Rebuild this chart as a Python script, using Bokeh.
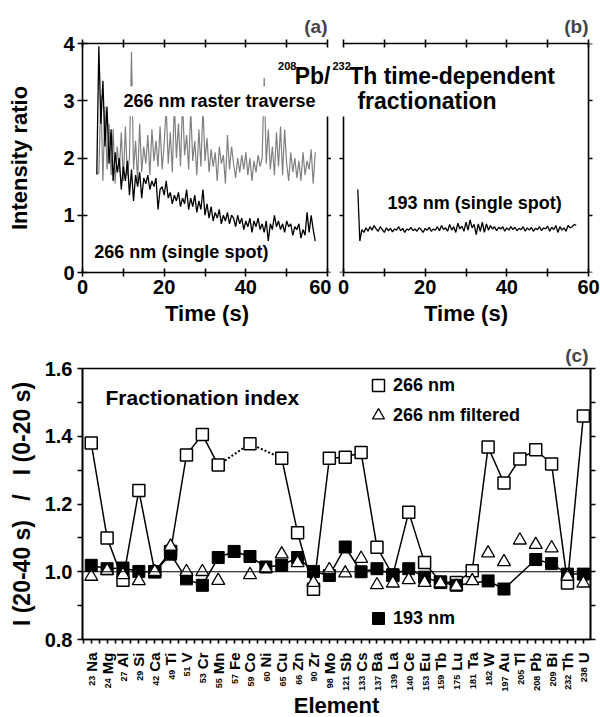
import math
import numpy as np
from bokeh.plotting import figure
from bokeh.models import (Range1d, LinearAxis, FixedTicker, Label, LabelSet, ColumnDataSource,
                          Span, Legend, LegendItem, NumeralTickFormatter, CustomJSTickFormatter)
from bokeh.layouts import column, row
from bokeh.core.properties import value
from bokeh.embed import file_html
from bokeh.resources import INLINE

FONT = "Liberation Sans"
nan = float("nan")

# ---------------- data: panels (a) and (b), sampled every 0.5 s from 3.5 s ----------------
t_start = 3.5
t_step = 0.5
raster_266 = [1.7, 1.75, 3.1, 1.6, 2.9, 1.8, 2.6, 1.7, 2.5, 1.55,
              2.2, 1.75, 2.45, 1.6, 2.55, 1.7, 2.0, 3.85, 1.8, 2.3,
              1.6, 2.6, 1.75, 2.2, 1.9, 2.4, 1.7, 2.5, 1.95, 2.3,
              1.85, 2.55, 1.8, 2.25, 2.9, 1.9, 2.45, 1.75, 2.95, 2.0,
              2.6, 1.85, 3.0, 2.05, 2.4, 1.8, 2.85, 1.95, 2.3, 1.7,
              2.5, 1.85, 2.9, 1.95, 2.35, 1.75, 2.15, 1.85, 2.1, 1.6,
              2.2, 1.9, 2.05, 1.55, 2.4, 1.8, 2.2, 1.9, 1.65, 2.0,
              1.75, 2.05, 1.8, 2.1, 1.7, 2.0, 1.6, 1.95, 1.75, 2.05,
              1.85, 2.0, 3.4, 1.9, 2.5, 1.8, 2.2, 1.7, 2.45, 1.85,
              2.55, 1.7, 2.5, 1.9, 1.6, 2.1, 1.75, 2.0, 1.65, 1.95,
              1.6, 2.1, 1.7, 1.95, 1.8, 2.15, 1.55, 2.1]
spot_266 = [1.72, 3.95, 2.6, 3.35, 2.2, 2.9, 1.9, 2.5, 1.6, 2.1,
            1.75, 2.0, 1.45, 1.85, 1.6, 1.95, 1.35, 1.8, 1.25, 1.7,
            1.5, 1.75, 1.3, 1.65, 1.55, 1.7, 1.45, 1.6, 1.5, 1.65,
            1.1, 1.45, 1.5, 1.35, 1.6, 1.3, 1.4, 1.2, 1.35, 1.25,
            1.4, 1.15, 1.3, 1.2, 1.45, 1.1, 1.3, 1.15, 1.35, 1.05,
            1.25, 1.1, 1.45, 1.0, 1.2, 0.95, 1.15, 0.9, 1.05, 0.95,
            1.1, 0.85, 1.0, 0.9, 1.05, 0.85, 1.0, 0.95, 0.8, 1.0,
            0.85, 0.95, 0.75, 0.9, 0.8, 0.95, 0.7, 0.9, 0.8, 0.95,
            0.75, 0.85, 0.7, 0.9, 0.55, 0.85, 0.75, 1.0, 0.8, 0.9,
            0.75, 0.85, 0.7, 0.9, 0.8, 0.85, 0.65, 0.8, 0.75, 0.85,
            0.6, 0.75, 0.65, 1.05, 0.7, 1.0, 0.75, 0.55]
spot_193 = [1.45, 0.55, 0.75, 0.7, 0.78, 0.72, 0.8, 0.74, 0.82, 0.76,
            0.72, 0.8, 0.75, 0.7, 0.78, 0.73, 0.77, 0.71, 0.76, 0.74,
            0.8, 0.73, 0.77, 0.7, 0.76, 0.74, 0.79, 0.73, 0.76, 0.72,
            0.78, 0.75, 0.7, 0.77, 0.74, 0.79, 0.72, 0.76, 0.74, 0.8,
            0.73, 0.82, 0.75, 0.78, 0.72, 0.84, 0.74, 0.8, 0.7, 0.86,
            0.76, 0.81, 0.72, 0.88, 0.74, 0.92, 0.78, 0.84, 0.66, 0.85,
            0.72, 0.88, 0.7, 0.85, 0.74, 0.82, 0.76, 0.8, 0.73, 0.79,
            0.76, 0.8, 0.72, 0.78, 0.74, 0.8, 0.75, 0.79, 0.73, 0.77,
            0.75, 0.8, 0.72, 0.78, 0.74, 0.79, 0.72, 0.77, 0.75, 0.8,
            0.73, 0.78, 0.76, 0.81, 0.72, 0.79, 0.75, 0.82, 0.7, 0.8,
            0.74, 0.78, 0.72, 0.82, 0.78, 0.8, 0.84, 0.82]

# ---------------- data: panel (c) ----------------
elements = ["Na", "Mg", "Al", "Si", "Ca", "Ti", "V", "Cr", "Mn", "Fe", "Co", "Ni", "Cu", "Zn",
            "Zr", "Mo", "Sb", "Cs", "Ba", "La", "Ce", "Eu", "Tb", "Lu", "Ta", "W", "Au", "Tl",
            "Pb", "Bi", "Th", "U"]
masses = ["23", "24", "27", "29", "42", "49", "51", "53", "55", "57", "59", "60", "65", "66",
          "90", "98", "121", "133", "137", "139", "140", "153", "159", "175", "181", "182", "197",
          "205", "208", "209", "232", "238"]
idx_266 = [1.38, 1.10, 0.975, 1.24, 1.0, 1.06, 1.345, 1.405, 1.315, nan, 1.378, nan, 1.335, 1.115,
           0.948, 1.335, 1.338, 1.352, 1.072, 0.99, 1.176, 1.027, 0.97, 0.968, 1.003, 1.368, 1.262,
           1.333, 1.36, 1.318, 0.967, 1.46]
idx_266f = [0.986, 1.003, 0.991, 0.973, 1.0, 1.075, 1.0, 1.0, 0.974, nan, 0.991, 1.009, 1.052, 1.026,
            0.968, 1.006, 0.996, 1.039, 0.961, 0.966, 0.976, 0.968, 0.966, 0.957, 0.973, 1.055, 1.029,
            1.093, 1.08, 1.07, 0.986, 0.966]
idx_193 = [1.019, 1.009, 1.011, 1.001, 1.0, 1.052, 0.979, 0.96, 1.042, 1.06, 1.045, 1.014, 1.019, 1.042,
           1.001, 0.989, 1.073, 1.0, 1.009, 0.991, 1.009, 0.984, 0.968, 0.96, nan, 0.973, 0.949,
           nan, 1.036, 1.024, 0.993, 0.993]

# ---------------- helpers ----------------
def blank_fmt():
    return CustomJSTickFormatter(code="return ''")


def make_axis(ticks, minor=(), labels=True, size="20px", bounds="auto", t_in=0, t_out=4,
              fmt=None, label=None, label_standoff=5, label_size="22px", standoff=3, fixed=None):
    ax = LinearAxis(ticker=FixedTicker(ticks=list(ticks), minor_ticks=list(minor)), bounds=bounds)
    if fixed is not None:
        ax.fixed_location = fixed
    ax.axis_line_width = 1.6
    ax.axis_line_color = "black"
    ax.major_tick_line_width = 1.6
    ax.minor_tick_line_width = 1.6
    ax.major_tick_line_color = "black"
    ax.minor_tick_line_color = "black"
    ax.major_tick_in = t_in
    ax.major_tick_out = t_out
    ax.minor_tick_in = t_in
    ax.minor_tick_out = t_out
    if labels:
        ax.major_label_text_font = FONT
        ax.major_label_text_font_style = "bold"
        ax.major_label_text_font_size = size
        ax.major_label_text_color = "black"
        ax.major_label_standoff = standoff
        if fmt is not None:
            ax.formatter = fmt
    else:
        ax.formatter = blank_fmt()
        ax.major_label_text_font_size = "1px"
        ax.major_label_standoff = 0
    if label:
        ax.axis_label = label
        ax.axis_label_text_font = FONT
        ax.axis_label_text_font_style = "bold"
        ax.axis_label_text_font_size = label_size
        ax.axis_label_standoff = label_standoff
        ax.axis_label_text_color = "black"
    return ax


def panel_fig(width, height, xr, yr, bl, br, bt, bb, title=""):
    p = figure(width=width, height=height, x_range=xr, y_range=yr, title=title,
               x_axis_location=None, y_axis_location=None, output_backend="svg",
               toolbar_location=None, min_border_left=bl, min_border_right=br,
               min_border_top=bt, min_border_bottom=bb)
    p.outline_line_color = None
    p.grid.visible = False
    p.background_fill_color = "white"
    p.border_fill_color = "white"
    p.title.text_font = FONT
    p.title.text_font_style = "bold"
    p.title.text_font_size = "19px"
    p.title.align = "right"
    return p


def txt(p, x, y, text, size, align="left", baseline="alphabetic", **kw):
    lab = Label(x=x, y=y, text=text, text_font=FONT, text_font_style="bold",
                text_font_size=size, text_align=align, text_baseline=baseline,
                text_color="black", **kw)
    p.add_layout(lab)
    return lab


xt_major = [0, 20, 40, 60]
xt_minor = [10, 30, 50]
PX_PER_S = 245 / 60.0

# ---------------- panel (a) ----------------
pa = panel_fig(331, 340, Range1d(0, 60 + 4 / PX_PER_S), Range1d(0, 4), 82, 0, 43, 68, title="(a)")
pa.title.offset = 4
pa.title.standoff = 6
pa.add_layout(make_axis(xt_major, xt_minor, bounds=(0, 60), t_in=4, t_out=4,
                        label="Time (s)", label_standoff=4), "below")
pa.add_layout(make_axis([0, 1, 2, 3, 4], t_in=5, t_out=5, label="Intensity ratio",
                        label_standoff=28), "left")
pa.add_layout(make_axis(xt_major, xt_minor, labels=False, bounds=(0, 60), t_in=4, t_out=4), "above")
pa.add_layout(make_axis([0, 1, 2], labels=False, bounds=(0, 2.72), t_in=0, t_out=4, fixed=60), "right")

time_a = [t_start + t_step * i for i in range(len(raster_266))]
pa.line(time_a, raster_266, line_color="#808080", line_width=1.2)
pa.line(time_a, spot_266, line_color="black", line_width=1.3)

txt(pa, 8.8, 2.99, "266 nm raster traverse", "18px", baseline="middle",
    background_fill_color="white", padding=5)
txt(pa, 2.9, 0.35, "266 nm (single spot)", "18px", baseline="middle")
txt(pa, 52.4, 3.60, "208", "11px", align="right")
txt(pa, 60.73, 3.44, "Pb/", "23px", align="right")

# ---------------- panel (b) ----------------
gap = 12 / PX_PER_S
pb = panel_fig(269, 340, Range1d(-gap, 60 + gap), Range1d(0, 4), 0, 0, 43, 68, title="(b)")
pb.title.offset = 12
pb.title.standoff = 6
pb.add_layout(make_axis(xt_major, xt_minor, bounds=(0, 60), t_in=4, t_out=4,
                        label="Time (s)", label_standoff=4), "below")
pb.add_layout(make_axis([0, 1, 2], labels=False, bounds=(0, 2.72), t_in=0, t_out=4, fixed=0), "left")
pb.add_layout(make_axis(xt_major, xt_minor, labels=False, bounds=(0, 60), t_in=4, t_out=4), "above")
pb.add_layout(make_axis([0, 1, 2, 3, 4], labels=False, t_in=0, t_out=4, fixed=60), "right")

time_b = [t_start + t_step * i for i in range(len(spot_193))]
pb.line(time_b, spot_193, line_color="black", line_width=1.3)

txt(pb, 10.8, 1.22, "193 nm (single spot)", "18px", baseline="middle")
txt(pb, -2.7, 3.60, "232", "11px")
txt(pb, 1.4, 3.44, "Th time-dependent", "23px")
txt(pb, 3.4, 3.0, "fractionation", "23px")

# ---------------- panel (c) ----------------
n = len(elements)
pos = np.arange(1, n + 1)
xr_c = Range1d(0.45, 32.45)
C_BOTTOM = 12
pc = panel_fig(600, 28 + 271 + C_BOTTOM, xr_c, Range1d(0.8, 1.6), 82, 10, 28, C_BOTTOM, title="(c)")
pc.title.offset = 2
pc.title.standoff = 5
pc.outline_line_color = "black"
pc.outline_line_width = 1.6

nb = "\u00a0" * 3
ylab = "I (20-40 s)" + nb + "/" + nb + "I (0-20 s)"
pc.add_layout(make_axis([0.8, 1.0, 1.2, 1.4, 1.6], [0.9, 1.1, 1.3, 1.5], t_out=5,
                        fmt=NumeralTickFormatter(format="0.0"), label=ylab,
                        label_standoff=7, standoff=5, label_size="23px"), "left")
pc.add_layout(make_axis([0.8, 1.0, 1.2, 1.4, 1.6], [0.9, 1.1, 1.3, 1.5], labels=False, t_out=5), "right")
pc.add_layout(make_axis(list(pos), [i + 0.5 for i in range(n)], labels=False, t_out=4), "below")

pc.add_layout(Span(location=1.0, dimension="width", line_color="black", line_width=1))

v266 = np.array(idx_266, dtype=float)
v266f = np.array(idx_266f, dtype=float)
v193 = np.array(idx_193, dtype=float)

# 266 nm: solid where consecutive, dotted across missing elements
pc.line(pos, v266, line_color="black", line_width=1.5)
ok = np.where(~np.isnan(v266))[0]
bx, by = [], []
for a, b in zip(ok[:-1], ok[1:]):
    if b - a > 1:
        bx.append([pos[a], pos[b]])
        by.append([v266[a], v266[b]])
pc.multi_line(bx, by, line_color="black", line_width=2, line_dash="2 2")

ok193 = ~np.isnan(v193)
pc.line(pos[ok193], v193[ok193], line_color="black", line_width=1.5)

r_open = pc.scatter(pos, v266, marker="square", size=12, fill_color="white",
                    line_color="black", line_width=1.5)
r_fill = pc.scatter(pos, v193, marker="square", size=12, fill_color="black",
                    line_color="black", line_width=1)
r_tri = pc.scatter(pos, v266f, marker="triangle", size=13, fill_color="white",
                   line_color="black", line_width=1.3)

leg1 = Legend(items=[LegendItem(label="266 nm", renderers=[r_open]),
                     LegendItem(label="266 nm filtered", renderers=[r_tri])],
              location=(281, 209))
leg2 = Legend(items=[LegendItem(label="193 nm", renderers=[r_fill])], location=(281, 6))
for lg in (leg1, leg2):
    lg.border_line_color = None
    lg.background_fill_alpha = 0
    lg.padding = 0
    lg.margin = 0
    lg.spacing = 0
    lg.glyph_width = 30
    lg.glyph_height = 30
    lg.label_height = 30
    lg.label_standoff = 0
    lg.label_text_font = FONT
    lg.label_text_font_style = "bold"
    lg.label_text_font_size = "18px"
    lg.label_text_color = "black"
    pc.add_layout(lg)

txt(pc, 1.9, 1.514, "Fractionation index", "21px", baseline="middle")

# ---------------- strip under (c): element tick labels and "Element" ----------------
STRIP_H = 717 - 340 - (28 + 271 + C_BOTTOM)
pd = panel_fig(600, STRIP_H, xr_c, Range1d(0, STRIP_H), 82, 10, 0, 0)
W = {'A': .722, 'B': .722, 'C': .722, 'E': .667, 'F': .611, 'L': .611, 'M': .833, 'N': .722,
     'P': .667, 'S': .667, 'T': .611, 'U': .722, 'V': .667, 'W': .944, 'Z': .611, 'a': .556,
     'b': .611, 'e': .556, 'g': .611, 'h': .611, 'i': .278, 'l': .278, 'n': .611, 'o': .611,
     'r': .389, 's': .556, 'u': .611}
SYM_PX = 15
sym_w = [sum(W.get(ch, .6) for ch in s) * SYM_PX for s in elements]
lab_src = ColumnDataSource(dict(
    x=list(pos), sym=elements, mass=masses,
    y_sym=[STRIP_H - 1] * n, y_mass=[STRIP_H - (1 + w + 4) for w in sym_w]))
pd.add_layout(LabelSet(x="x", y="y_sym", text="sym", source=lab_src, angle=math.pi / 2,
                       text_align="right", text_baseline="middle",
                       text_font=value(FONT), text_font_style="bold", text_font_size="15px",
                       text_color="black"))
pd.add_layout(LabelSet(x="x", y="y_mass", text="mass", source=lab_src, angle=math.pi / 2,
                       x_offset=1, text_align="right", text_baseline="middle",
                       text_font=value(FONT), text_font_style="bold", text_font_size="9px",
                       text_color="black"))
txt(pd, 16.45, STRIP_H - (705 - (717 - STRIP_H)), "Element", "22px", align="center", baseline="middle")

layout = column(row(pa, pb), pc, pd)
open("out.html", "w").write(file_html(layout, INLINE, "chart"))
